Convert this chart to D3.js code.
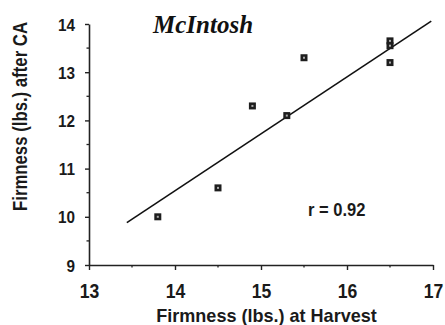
<!DOCTYPE html>
<html>
<head>
<meta charset="utf-8">
<script src="https://cdn.jsdelivr.net/npm/d3@7"></script>
<style>
  html, body { margin: 0; padding: 0; background: #fff; }
  svg { display: block; }
  .cond { font-family: "Liberation Sans", Arial, sans-serif; font-weight: bold; fill: #1a1a1a; }
</style>
</head>
<body>
<svg id="chart" width="445" height="325"></svg>
<script>
// Firmness at harvest vs. firmness after controlled-atmosphere storage
const harvest = [13.8, 14.5, 14.9, 15.3, 15.5, 16.5, 16.5, 16.5];
const afterCA = [10.0, 10.6, 12.3, 12.1, 13.3, 13.65, 13.55, 13.2];
// fitted line end points
const fitX = [13.44, 16.98];
const fitY = [9.88, 14.06];
const xTicks = [13, 14, 15, 16, 17];
const yTicks = [9, 10, 11, 12, 13, 14];
const xMinor = [13.5, 14.5, 15.5, 16.5];
const yMinor = [9.5, 10.5, 11.5, 12.5, 13.5];
const cultivar = "McIntosh";
const rLabel = "r = 0.92";

const svg = d3.select("#chart");
const x = d3.scaleLinear().domain([13, 17]).range([89, 433]);
const y = d3.scaleLinear().domain([9, 14]).range([265, 24]);

// axes
const xAxis = svg.append("g").attr("transform", `translate(0,${y(9)})`)
  .call(d3.axisBottom(x).tickValues(xTicks).tickSize(5).tickFormat(d3.format("d")).tickSizeOuter(0));
const yAxis = svg.append("g").attr("transform", `translate(${x(13)},0)`)
  .call(d3.axisLeft(y).tickValues(yTicks).tickSize(4).tickFormat(d3.format("d")).tickSizeOuter(0));

[xAxis, yAxis].forEach(g => {
  g.select(".domain").attr("stroke", "#222").attr("stroke-width", 1.6);
  g.selectAll(".tick line").attr("stroke", "#222").attr("stroke-width", 1.4);
  g.selectAll(".tick text").attr("class", "cond");
});
// condensed-looking tick numerals
xAxis.selectAll(".tick text").style("font-size", "20px")
  .attr("y", 33).attr("dy", 0).attr("transform", "scale(0.88,1)");
yAxis.selectAll(".tick text").style("font-size", "17px")
  .attr("x", -14 / 0.9).attr("dy", "0.36em").attr("transform", "scale(0.9,1)");

// minor ticks
svg.append("g").selectAll("line").data(xMinor).join("line")
  .attr("x1", d => x(d)).attr("x2", d => x(d))
  .attr("y1", y(9)).attr("y2", y(9) + 2.5)
  .attr("stroke", "#222").attr("stroke-width", 1.3);
svg.append("g").selectAll("line").data(yMinor).join("line")
  .attr("x1", x(13) - 2.5).attr("x2", x(13))
  .attr("y1", d => y(d)).attr("y2", d => y(d))
  .attr("stroke", "#222").attr("stroke-width", 1.3);

// fitted line
svg.append("line")
  .attr("x1", x(fitX[0])).attr("y1", y(fitY[0]))
  .attr("x2", x(fitX[1])).attr("y2", y(fitY[1]))
  .attr("stroke", "#111").attr("stroke-width", 1.6);

// data markers
const pts = svg.append("g").selectAll("g").data(harvest.map((h, i) => [h, afterCA[i]])).join("g")
  .attr("transform", d => `translate(${x(d[0])},${y(d[1])})`);
pts.append("rect").attr("x", -3.5).attr("y", -3.5).attr("width", 7).attr("height", 7)
  .attr("fill", "#1e1e1e");
pts.append("rect").attr("x", -1).attr("y", -1).attr("width", 2).attr("height", 2)
  .attr("fill", "#aaa");

// labels
svg.append("text").attr("x", 153).attr("y", 33)
  .style("font-family", "'Liberation Serif', 'Times New Roman', serif")
  .style("font-weight", "bold").style("font-style", "italic").style("font-size", "25px")
  .attr("fill", "#111").text(cultivar);

svg.append("text").attr("class", "cond")
  .attr("transform", "translate(308,215.5) scale(0.92,1)")
  .style("font-size", "18px").text(rLabel);

svg.append("text").attr("class", "cond")
  .attr("transform", "translate(266.5,321.5) scale(0.95,1)")
  .attr("text-anchor", "middle").style("font-size", "19px")
  .text("Firmness (lbs.) at Harvest");

svg.append("text").attr("class", "cond")
  .attr("transform", "translate(26.5,116.5) rotate(-90) scale(0.86,1)")
  .attr("text-anchor", "middle").style("font-size", "19.5px")
  .text("Firmness (lbs.) after CA");
</script>
</body>
</html>
